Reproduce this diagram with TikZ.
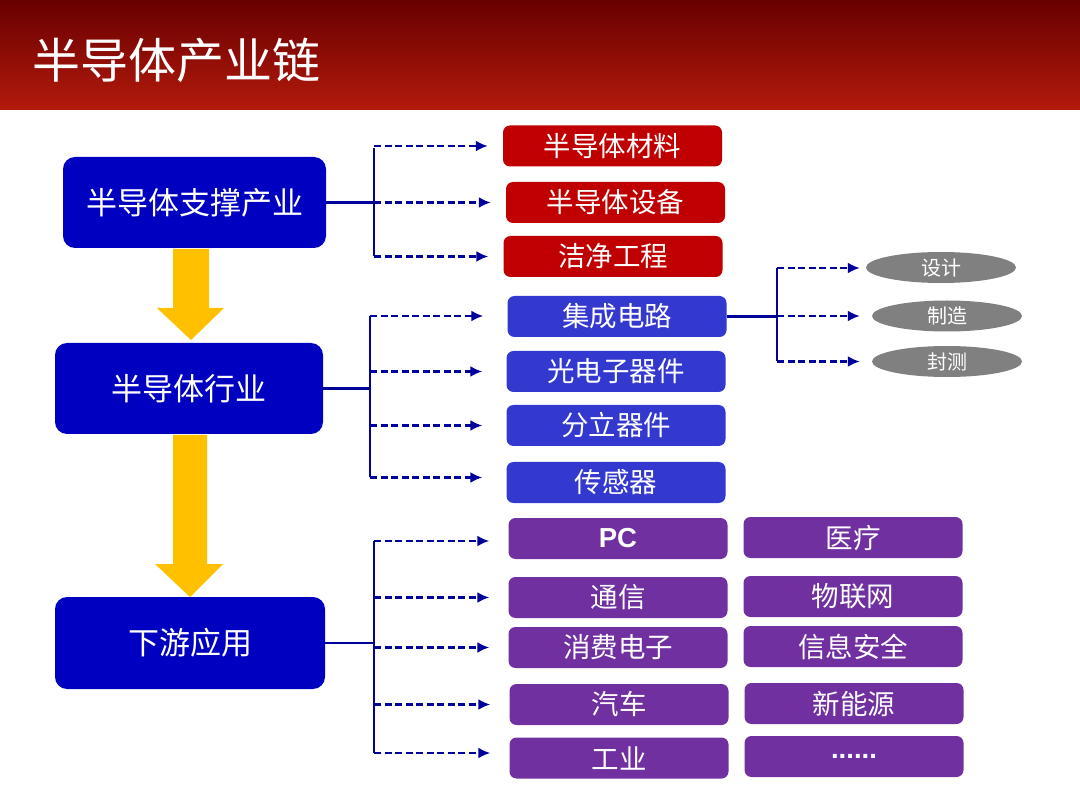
\documentclass[tikz,border=0pt]{standalone}
\usepackage{fontspec}
\setmainfont{Liberation Sans}
\newfontfamily\cjk{Noto Sans CJK SC}
\usepackage{tikz}
\usetikzlibrary{positioning,arrows.meta}
\usetikzlibrary{shapes.geometric}

\definecolor{bartop}{HTML}{680000}
\definecolor{barbot}{HTML}{B31A0C}
\definecolor{mainblue}{HTML}{0000C0}
\definecolor{supred}{HTML}{C00000}
\definecolor{indblue}{HTML}{3338CF}
\definecolor{apppurple}{HTML}{7030A0}
\definecolor{linkblue}{HTML}{00009A}
\definecolor{gold}{HTML}{FFC000}

\tikzset{
  mainbox/.style={fill=mainblue,rounded corners=12pt,text=white,
    font=\cjk\fontsize{31}{31}\selectfont,inner sep=0pt},
  subbox/.style={rounded corners=7pt,text=white,minimum width=219pt,
    minimum height=41pt,font=\cjk\fontsize{27.5}{27.5}\selectfont,inner sep=0pt},
  phase/.style={ellipse,fill=black!50,text=white,minimum width=150pt,
    minimum height=31pt,font=\cjk\fontsize{20}{20}\selectfont,inner sep=0pt},
  trunk/.style={linkblue,line width=2.6pt},
  dasharrow/.style={linkblue,line width=2.4pt,dash pattern=on 7pt off 3.5pt,
    -{Latex[length=12pt,width=11pt]}}
}

\begin{document}
\begin{tikzpicture}[x=1pt,y=-1pt]
  \useasboundingbox (0,0) rectangle (1080,810);

  % title bar
  \shade[top color=bartop,bottom color=barbot] (0,0) rectangle (1080,110);
  \node[anchor=west,text=white,font=\cjk\fontsize{48}{48}\selectfont,inner sep=0pt]
    (title) at (32,60) {半导体产业链};

  % left column
  \node[mainbox,minimum width=263pt,minimum height=91pt] (sup) at (194.5,202.5) {半导体支撑产业};
  \node[mainbox,minimum width=268pt,minimum height=91pt] (ind) at (189,388.5) {半导体行业};
  \node[mainbox,minimum width=270pt,minimum height=92pt] (app) at (190,643) {下游应用};

  % yellow arrows
  \fill[gold] (173,249) -- (209,249) -- (209,308) -- (224,308) -- (191,340)
    -- (157,308) -- (173,308) -- cycle;
  \fill[gold] (173,435) -- (207,435) -- (207,564) -- (223,564) -- (190,597)
    -- (155,564) -- (173,564) -- cycle;

  % supporting industry
  \node[subbox,fill=supred] (mat) at (612.5,146) {半导体材料};
  \node[subbox,fill=supred] (equ) at (615.5,202.5) {半导体设备};
  \node[subbox,fill=supred] (cln) at (613,256.5) {洁净工程};

  % semiconductor industry
  \node[subbox,fill=indblue] (ic) at (617,316.5) {集成电路};
  \node[subbox,fill=indblue] (opto) at (616,371.5) {光电子器件};
  \node[subbox,fill=indblue] (disc) at (616,425.5) {分立器件};
  \node[subbox,fill=indblue] (sens) at (616,482.5) {传感器};

  % IC steps
  \node[phase] (des) at (941,267.5) {设计};
  \node[phase] (fab) at (947,316) {制造};
  \node[phase] (tst) at (947,361.5) {封测};

  % applications
  \node[subbox,fill=apppurple] (pc) at (618,538.5) {{\rmfamily\bfseries PC}};
  \node[subbox,fill=apppurple] (comm) at (618,597.5) {通信};
  \node[subbox,fill=apppurple] (cons) at (618,647.5) {消费电子};
  \node[subbox,fill=apppurple] (car) at (619,704.5) {汽车};
  \node[subbox,fill=apppurple] (fac) at (619,758) {工业};
  \node[subbox,fill=apppurple] (med) at (853,537.5) {医疗};
  \node[subbox,fill=apppurple] (iot) at (853,596.5) {物联网};
  \node[subbox,fill=apppurple] (sec) at (853,646.5) {信息安全};
  \node[subbox,fill=apppurple] (nev) at (854,703.5) {新能源};
  \node[subbox,fill=apppurple] (more) at (854,756.5) {{\rmfamily\bfseries ......}};

  % connectors
  \coordinate (j1) at (374,148);
  \coordinate (j2) at (370,316);
  \coordinate (j3) at (374,541);
  \coordinate (j4) at (777,268);

  \draw[trunk] (sup.east) -- (sup.east -| j1);
  \draw[trunk] (j1) -- (j1 |- cln);
  \foreach \n in {mat,equ,cln}
    \draw[dasharrow,shorten >=15pt] (j1 |- \n) -- (\n.west);

  \draw[trunk] (ind.east) -- (ind.east -| j2);
  \draw[trunk] (j2) -- ([yshift=5pt]j2 |- sens);
  \draw[dasharrow,shorten >=24pt] (j2) -- (ic.west |- j2);
  \foreach \n in {opto,disc}
    \draw[dasharrow,shorten >=24pt] (j2 |- \n) -- (\n.west);
  \draw[dasharrow,shorten >=24pt] ([yshift=5pt]j2 |- sens) -- ([yshift=5pt]sens.west);

  \draw[trunk] (app.east) -- (app.east -| j3);
  \draw[trunk] (j3) -- ([yshift=5pt]j3 |- fac);
  \draw[dasharrow,shorten >=19pt] (j3) -- (pc.west |- j3);
  \foreach \n in {comm,cons,car}
    \draw[dasharrow,shorten >=19pt] (j3 |- \n) -- (\n.west);
  \draw[dasharrow,shorten >=19pt] ([yshift=5pt]j3 |- fac) -- ([yshift=5pt]fac.west);

  \draw[trunk] (ic.east) -- (ic.east -| j4);
  \draw[trunk] (j4) -- (j4 |- tst);
  \draw[dasharrow,shorten >=6pt] (j4) -- (des.west |- j4);
  \foreach \n in {fab,tst}
    \draw[dasharrow,shorten >=12pt] (j4 |- \n) -- (\n.west);
\end{tikzpicture}
\end{document}
